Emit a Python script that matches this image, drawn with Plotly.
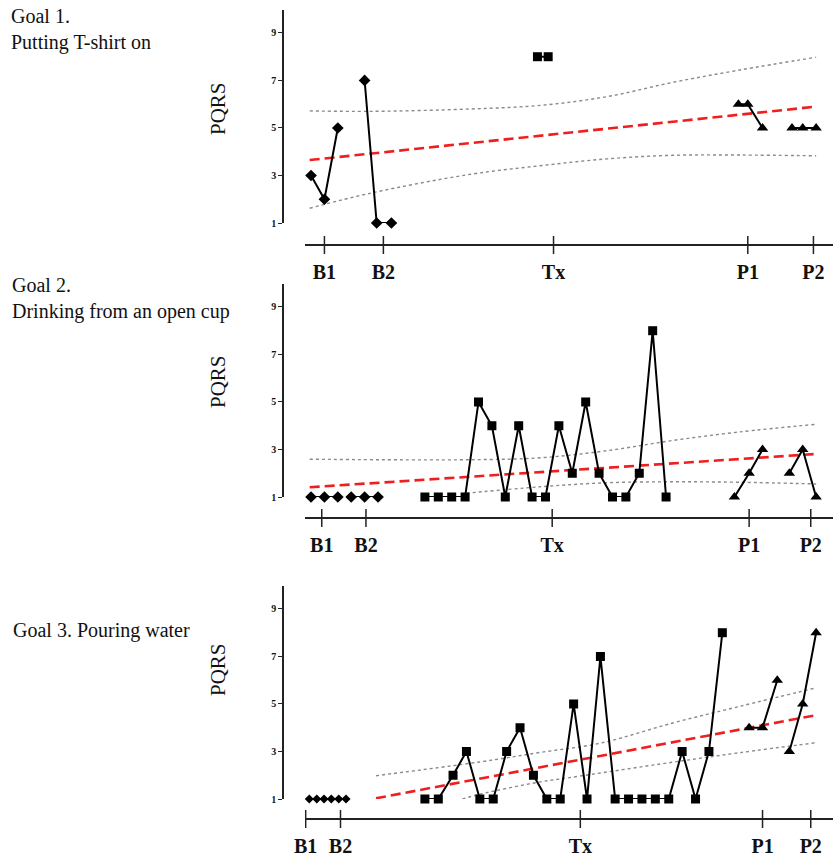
import plotly.graph_objects as go

FONT = "Liberation Serif"
W, H = 833, 862

PHASES = ["B1", "B2", "Tx", "P1", "P2"]
Y_TICKS = [1, 3, 5, 7, 9]

# ---- Goal 1: putting T-shirt on (x = session position) ----
g1_ticks = [2.0, 6.4, 19.1, 33.6, 38.5]
g1_b1_x, g1_b1_y = [1.0, 2.0, 3.0], [3, 2, 5]
g1_b2_x, g1_b2_y = [5.0, 5.9, 7.0], [7, 1, 1]
g1_tx_x, g1_tx_y = [17.9, 18.7], [8, 8]
g1_p1_x, g1_p1_y = [32.9, 33.6, 34.7], [6, 6, 5]
g1_p2_x, g1_p2_y = [36.9, 37.7, 38.7], [5, 5, 5]
g1_trend_x, g1_trend_y = [0.9, 38.7], [3.65, 5.9]
g1_upper_x = [0.9, 5.4, 12.9, 18.1, 23.1, 28.0, 33.0, 38.7]
g1_upper_y = [5.72, 5.70, 5.80, 5.95, 6.32, 6.92, 7.44, 7.98]
g1_lower_x = [0.9, 5.4, 12.9, 18.1, 23.1, 28.0, 33.0, 38.7]
g1_lower_y = [1.62, 2.25, 3.05, 3.41, 3.70, 3.85, 3.86, 3.83]

# ---- Goal 2: drinking from an open cup ----
g2_ticks = [1.8, 5.1, 19.0, 33.7, 38.3]
g2_b1_x, g2_b1_y = [1, 2, 3], [1, 1, 1]
g2_b2_x, g2_b2_y = [4, 5, 6], [1, 1, 1]
g2_tx_x = [9.5, 10.5, 11.5, 12.5, 13.5, 14.5, 15.5, 16.5, 17.5, 18.5,
           19.5, 20.5, 21.5, 22.5, 23.5, 24.5, 25.5, 26.5, 27.5]
g2_tx_y = [1, 1, 1, 1, 5, 4, 1, 4, 1, 1, 4, 2, 5, 2, 1, 1, 2, 8, 1]
g2_p1_x, g2_p1_y = [32.6, 33.7, 34.7], [1, 2, 3]
g2_p2_x, g2_p2_y = [36.7, 37.7, 38.7], [2, 3, 1]
g2_trend_x, g2_trend_y = [0.9, 38.7], [1.41, 2.81]
g2_upper_x = [0.9, 12.9, 18.1, 23.1, 28.0, 33.0, 38.7]
g2_upper_y = [2.59, 2.57, 2.65, 2.95, 3.38, 3.74, 4.06]
g2_lower_x = [12.6, 18.1, 23.1, 28.0, 33.0, 38.7]
g2_lower_y = [1.16, 1.43, 1.60, 1.64, 1.62, 1.55]

# ---- Goal 3: pouring water ----
g3_ticks = [0.6, 3.2, 21.1, 34.7, 38.3]
g3_b_x = [0.87, 1.43, 1.97, 2.51, 3.07, 3.61]
g3_b_y = [1, 1, 1, 1, 1, 1]
g3_tx_x = [9.5, 10.5, 11.6, 12.6, 13.6, 14.6, 15.6, 16.6, 17.6, 18.6, 19.6, 20.6,
           21.6, 22.6, 23.7, 24.7, 25.7, 26.7, 27.7, 28.7, 29.7, 30.7, 31.7]
g3_tx_y = [1, 1, 2, 3, 1, 1, 3, 4, 2, 1, 1, 5, 1, 7, 1, 1, 1, 1, 1, 3, 1, 3, 8]
g3_p1_x, g3_p1_y = [33.7, 34.7, 35.8], [4, 4, 6]
g3_p2_x, g3_p2_y = [36.7, 37.7, 38.7], [3, 5, 8]
g3_trend_x, g3_trend_y = [5.85, 38.7], [1.03, 4.53]
g3_upper_x = [5.85, 13.6, 18.1, 22.6, 28.0, 33.0, 38.7]
g3_upper_y = [1.98, 2.56, 2.96, 3.35, 4.20, 4.90, 5.68]
g3_lower_x = [12.3, 13.6, 18.1, 20.3, 28.0, 33.0, 38.7]
g3_lower_y = [1.0, 1.2, 1.72, 1.90, 2.55, 2.95, 3.37]

# ---- panel geometry (paper fractions) ----
X_RANGE = [0.55, 39.96]
X_DOMAIN = [305 / W, 1.0]
Y_AXIS_POS = 283 / W
Y_RANGE = [1, 9.95]
TICK_HALF = 9 / H
# (y-domain bottom, y-domain top, x-axis line position)
PANELS = [
    ((H - 223) / H, (H - 10.4) / H, (H - 245) / H),
    ((H - 497) / H, (H - 284.4) / H, (H - 518) / H),
    ((H - 799) / H, (H - 586.4) / H, (H - 819) / H),
]

fig = go.Figure()

LINE_BLACK = dict(color="#000000", width=2)


def add_series(n, xs, ys, symbol, size):
    fig.add_trace(go.Scatter(
        x=xs, y=ys, mode="lines+markers", xaxis=f"x{n}", yaxis=f"y{n}",
        line=LINE_BLACK, cliponaxis=False,
        marker=dict(symbol=symbol, size=size, color="#000000"),
        hoverinfo="skip",
    ))


def add_band(n, xs, ys):
    fig.add_trace(go.Scatter(
        x=xs, y=ys, mode="lines", xaxis=f"x{n}", yaxis=f"y{n}",
        line=dict(color="#8a8a8a", width=1.4, dash="dot", shape="spline"),
        cliponaxis=False, hoverinfo="skip",
    ))


def add_trend(n, xs, ys):
    fig.add_trace(go.Scatter(
        x=xs, y=ys, mode="lines", xaxis=f"x{n}", yaxis=f"y{n}",
        line=dict(color="#f01e1e", width=2.6, dash="10px,5px"),
        cliponaxis=False, hoverinfo="skip",
    ))


# Goal 1
add_band(1, g1_upper_x, g1_upper_y)
add_band(1, g1_lower_x, g1_lower_y)
add_trend(1, g1_trend_x, g1_trend_y)
add_series(1, g1_b1_x, g1_b1_y, "diamond", 9)
add_series(1, g1_b2_x, g1_b2_y, "diamond", 9)
add_series(1, g1_tx_x, g1_tx_y, "square", 9)
add_series(1, g1_p1_x, g1_p1_y, "triangle-up", 10)
add_series(1, g1_p2_x, g1_p2_y, "triangle-up", 10)

# Goal 2
add_band(2, g2_upper_x, g2_upper_y)
add_band(2, g2_lower_x, g2_lower_y)
add_trend(2, g2_trend_x, g2_trend_y)
add_series(2, g2_b1_x, g2_b1_y, "diamond", 9)
add_series(2, g2_b2_x, g2_b2_y, "diamond", 9)
add_series(2, g2_tx_x, g2_tx_y, "square", 9)
add_series(2, g2_p1_x, g2_p1_y, "triangle-up", 10)
add_series(2, g2_p2_x, g2_p2_y, "triangle-up", 10)

# Goal 3
add_band(3, g3_upper_x, g3_upper_y)
add_band(3, g3_lower_x, g3_lower_y)
add_trend(3, g3_trend_x, g3_trend_y)
add_series(3, g3_b_x, g3_b_y, "diamond", 7)
add_series(3, g3_tx_x, g3_tx_y, "square", 9)
add_series(3, g3_p1_x, g3_p1_y, "triangle-up", 10)
add_series(3, g3_p2_x, g3_p2_y, "triangle-up", 10)

layout = dict(
    template="none",
    width=W, height=H, margin=dict(l=0, r=0, t=0, b=0, pad=0, autoexpand=False),
    paper_bgcolor="white", plot_bgcolor="white", showlegend=False,
)

shapes = []
tick_sets = [g1_ticks, g2_ticks, g3_ticks]
for i, ((yb, yt, xpos), ticks) in enumerate(zip(PANELS, tick_sets), start=1):
    layout[f"xaxis{i}"] = dict(
        domain=X_DOMAIN, range=X_RANGE, anchor="free", position=xpos,
        automargin=False,
        showline=True, linecolor="#222222", linewidth=1.5,
        showgrid=False, zeroline=False,
        tickmode="array", tickvals=ticks, ticktext=PHASES,
        ticks="", ticklabelstandoff=9,
        tickfont=dict(family=FONT, size=20, color="#111111", weight="bold"),
    )
    layout[f"yaxis{i}"] = dict(
        domain=[yb, yt], range=Y_RANGE, anchor="free", position=Y_AXIS_POS,
        automargin=False,
        showline=True, linecolor="#222222", linewidth=1.5,
        showgrid=False, zeroline=False,
        tickmode="array", tickvals=Y_TICKS,
        ticks="outside", ticklen=4, tickwidth=1.2, tickcolor="#222222",
        tickfont=dict(family=FONT, size=10, color="#111111", weight="bold"),
    )
    # tick marks crossing the time axis line
    for t in ticks:
        shapes.append(dict(
            type="line", xref=f"x{i}", yref="paper",
            x0=t, x1=t, y0=xpos - TICK_HALF, y1=xpos + TICK_HALF,
            line=dict(color="#222222", width=1.5),
        ))

layout["shapes"] = shapes

title_font = dict(family=FONT, size=20, color="#111111")
annotations = [
    dict(text="Goal 1.<br>Putting T-shirt on", x=9 / W, y=1 - 3 / H,
         xref="paper", yref="paper", xanchor="left", yanchor="top",
         align="left", showarrow=False, font=title_font),
    dict(text="Goal 2.<br>Drinking from an open cup", x=10 / W, y=1 - 272 / H,
         xref="paper", yref="paper", xanchor="left", yanchor="top",
         align="left", showarrow=False, font=title_font),
    dict(text="Goal 3. Pouring water", x=11 / W, y=1 - 617 / H,
         xref="paper", yref="paper", xanchor="left", yanchor="top",
         align="left", showarrow=False, font=title_font),
]
for yc in (109, 382, 670):
    annotations.append(dict(
        text="PQRS", x=218 / W, y=1 - yc / H, xref="paper", yref="paper",
        xanchor="center", yanchor="middle", textangle=-90, showarrow=False,
        font=dict(family=FONT, size=21, color="#111111"),
    ))
layout["annotations"] = annotations

fig.update_layout(**layout)
fig.write_html("out.html")
